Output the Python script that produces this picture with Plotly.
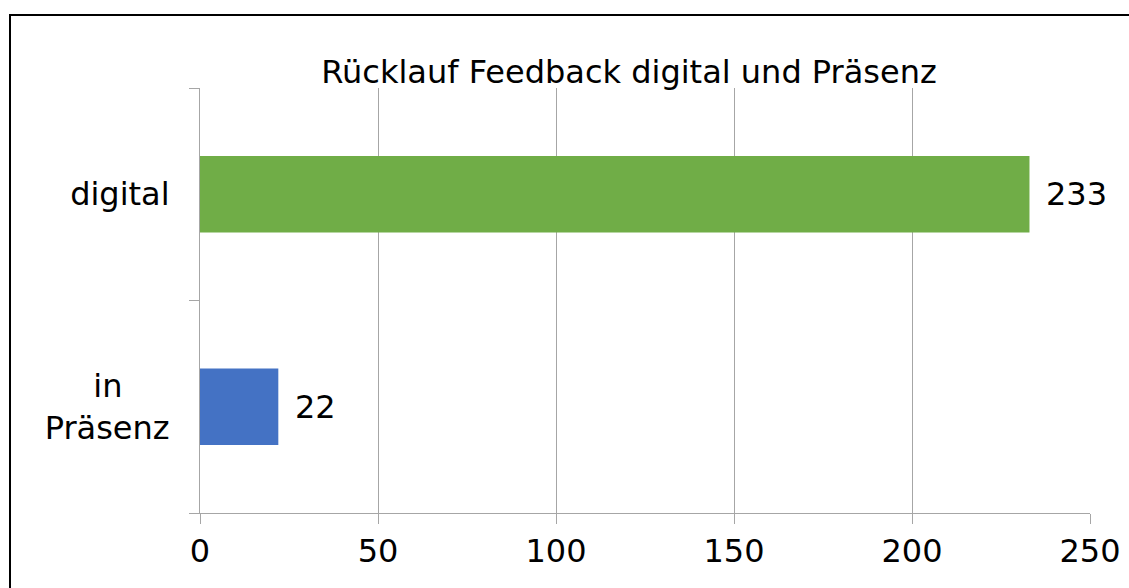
import plotly.graph_objects as go

categories = ["in" + "\u00a0" * 4 + "\u2009" + "<br>Präsenz", "digital"]
values = [22, 233]
colors = ["#4472C4", "#70AD47"]
x_ticks = [0, 50, 100, 150, 200, 250]
title_text = "Rücklauf Feedback digital und Präsenz"

W, H = 1129, 588
L, R, T, B = 200, 39, 88, 75
pw, ph = W - L - R, H - T - B

def px_x(p):
    return (p - L) / pw

def px_y(p):
    return (H - B - p) / ph

FONT = "DejaVu Sans"
GRID = "#a6a6a6"
FS = 32

fig = go.Figure()
fig.add_trace(go.Bar(
    y=categories, x=values, orientation="h",
    marker=dict(color=colors, line=dict(width=0)),
    width=0.36,
    hoverinfo="x+y",
))

for cat, val in zip(categories, values):
    fig.add_annotation(x=val, y=cat, xref="x", yref="y", text=str(val),
                       showarrow=False, xanchor="left", yanchor="middle", xshift=15,
                       font=dict(family=FONT, size=FS, color="#000000"))

fig.update_layout(
    width=W, height=H, autosize=False,
    margin=dict(l=L, r=R, t=T, b=B, autoexpand=False),
    paper_bgcolor="white", plot_bgcolor="white",
    showlegend=False,
    font=dict(family=FONT, size=FS, color="#000000"),
    title=dict(text=title_text, x=px_x(629), xref="paper", xanchor="center",
               y=1 - 72 / H, yref="container", yanchor="middle",
               font=dict(family=FONT, size=FS, color="#000000")),
    xaxis=dict(range=[0, 250], tickvals=x_ticks, showgrid=True, gridcolor=GRID, gridwidth=1,
               zeroline=False, showline=True, linecolor=GRID, linewidth=1, automargin=False,
               ticks="outside", ticklen=10, tickcolor=GRID, tickwidth=1,
               tickfont=dict(family=FONT, size=FS, color="#000000")),
    yaxis=dict(range=[-0.5, 1.5], showgrid=False, zeroline=False, showline=True, automargin=False,
               linecolor=GRID, linewidth=1, ticks="outside", ticklen=10, tickcolor=GRID,
               tickwidth=1, tickson="boundaries", ticklabelstandoff=23,
               tickfont=dict(family=FONT, size=FS, color="#000000")),
)

fig.add_shape(type="rect", xref="paper", yref="paper",
              x0=px_x(10), x1=px_x(1145), y0=px_y(600), y1=px_y(15),
              line=dict(color="#000000", width=2), fillcolor="rgba(0,0,0,0)", layer="above")

fig.write_html("out.html", config={"displayModeBar": False, "responsive": False},
               post_script="document.body.style.margin='0';")
